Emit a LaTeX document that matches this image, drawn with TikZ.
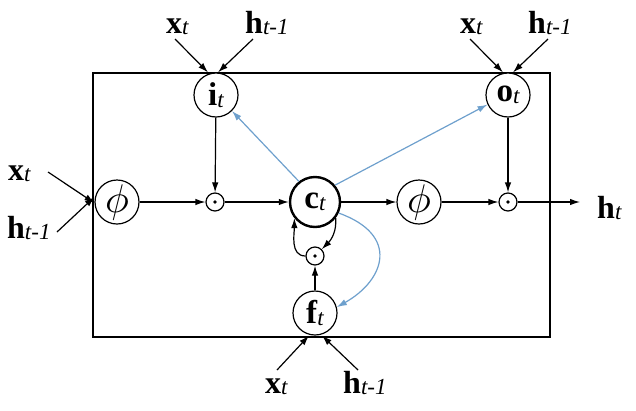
\documentclass[tikz,border=0pt]{standalone}
\usepackage{fontspec}
\setmainfont{Liberation Serif}
\usetikzlibrary{arrows.meta}
\newcommand\olbl[2]{{\fontsize{32}{32}\selectfont\textbf{#1}\raisebox{-1.5pt}{\fontsize{23}{23}\selectfont\itshape #2}}}
\newcommand\ilbl[2]{{\fontsize{33}{33}\selectfont\textbf{#1}\raisebox{-1.5pt}{\fontsize{23}{23}\selectfont\itshape #2}}}
\newcommand\phisym{\scalebox{4}{$\phi$}}
\definecolor{lblue}{RGB}{110,160,205}
\tikzset{
  gate/.style={circle,draw,line width=1.2pt,minimum size=44pt,inner sep=0pt},
  cell/.style={circle,draw,line width=2.4pt,minimum size=50pt,inner sep=0pt},
  prod/.style={circle,draw,line width=1.2pt,minimum size=18pt,inner sep=0pt},
  conn/.style={line width=1.2pt,-{Latex[length=10pt,width=6.5pt]}},
  bconn/.style={line width=1.2pt,lblue,-{Latex[length=10pt,width=6.5pt]}},
  lbl/.style={inner sep=0pt,anchor=base west},
}
\begin{document}
\begin{tikzpicture}[x=1pt,y=-1pt]
\useasboundingbox (0,0) rectangle (636,410);
\draw[line width=2.6pt] (93,73) rectangle (550,337);
% gates
\node[gate,fill=white] (i) at (216,95) {\ilbl{i}{t}};
\node[gate,fill=white] (o) at (508,95) {\ilbl{o}{t}};
\node[gate,fill=white] (f) at (315,313) {\ilbl{f}{t}};
\node[gate,fill=white] (p1) at (117,202) {\phisym};
\node[gate] (p2) at (419,202) {\phisym};
\node[cell] (c) at (315,202) {\ilbl{c}{t}};
\node[prod] (d1) at (215,202) {};
\node[prod] (d2) at (508,202) {};
\node[prod] (d3) at (315,256) {};
\fill (d1) circle (1.9pt);
\fill (d2) circle (1.9pt);
\fill (d3) circle (1.9pt);
% outside labels
\node[lbl] (xi) at (166,33) {\olbl{x}{t}};
\node[lbl] (hi) at (245,33) {\olbl{h}{t-1}};
\node[lbl] (xo) at (460,33) {\olbl{x}{t}};
\node[lbl] (ho) at (528,33) {\olbl{h}{t-1}};
\node[lbl] (xl) at (8,180) {\olbl{x}{t}};
\node[lbl] (hl) at (7,238) {\olbl{h}{t-1}};
\node[lbl] (xf) at (265,393) {\olbl{x}{t}};
\node[lbl] (hf) at (343,393) {\olbl{h}{t-1}};
\node[lbl] (ht) at (597,218) {\olbl{h}{t}};
% input arrows
\coordinate (xi0) at (175,39); \coordinate (hi0) at (253,39);
\coordinate (xo0) at (470,39); \coordinate (ho0) at (548,39);
\coordinate (xl0) at (48,172); \coordinate (hl0) at (57,232);
\coordinate (xf0) at (277,370); \coordinate (hf0) at (358,370);
\coordinate (htend) at (580,202);
\draw[conn] (xi0) -- ([xshift=-8pt]i.north);
\draw[conn] (hi0) -- ([xshift=2pt]i.north);
\draw[conn] (xo0) -- ([xshift=-5pt]o.north);
\draw[conn] (ho0) -- ([xshift=5pt]o.north);
\draw[conn] (xl0) -- ([yshift=-1pt]p1.west);
\draw[conn] (hl0) -- ([yshift=5pt]p1.west);
\draw[conn] (xf0) -- ([xshift=-6pt]f.south);
\draw[conn] (hf0) -- ([xshift=7pt]f.south);
% main flow
\draw[conn] (p1) -- (d1);
\draw[conn] (i) -- (d1);
\draw[conn] (d1) -- (c);
\draw[conn] (c) -- (p2);
\draw[conn] (p2) -- (d2);
\draw[conn] (o) -- (d2);
\draw[conn] (d2) -- (htend);
\draw[conn] (f) -- (d3);
\draw[conn] (d3.west) to[out=180,in=270] (c.218);
\draw[conn] (c.-38) to[out=275,in=45] (d3.45);
% peepholes
\draw[bconn] (c.128) -- (i.-45);
\draw[bconn] (c.40) -- (o.205);
\draw[bconn] (c.-25) .. controls (400,235) and (385,280) .. (f.15);
\end{tikzpicture}
\end{document}
